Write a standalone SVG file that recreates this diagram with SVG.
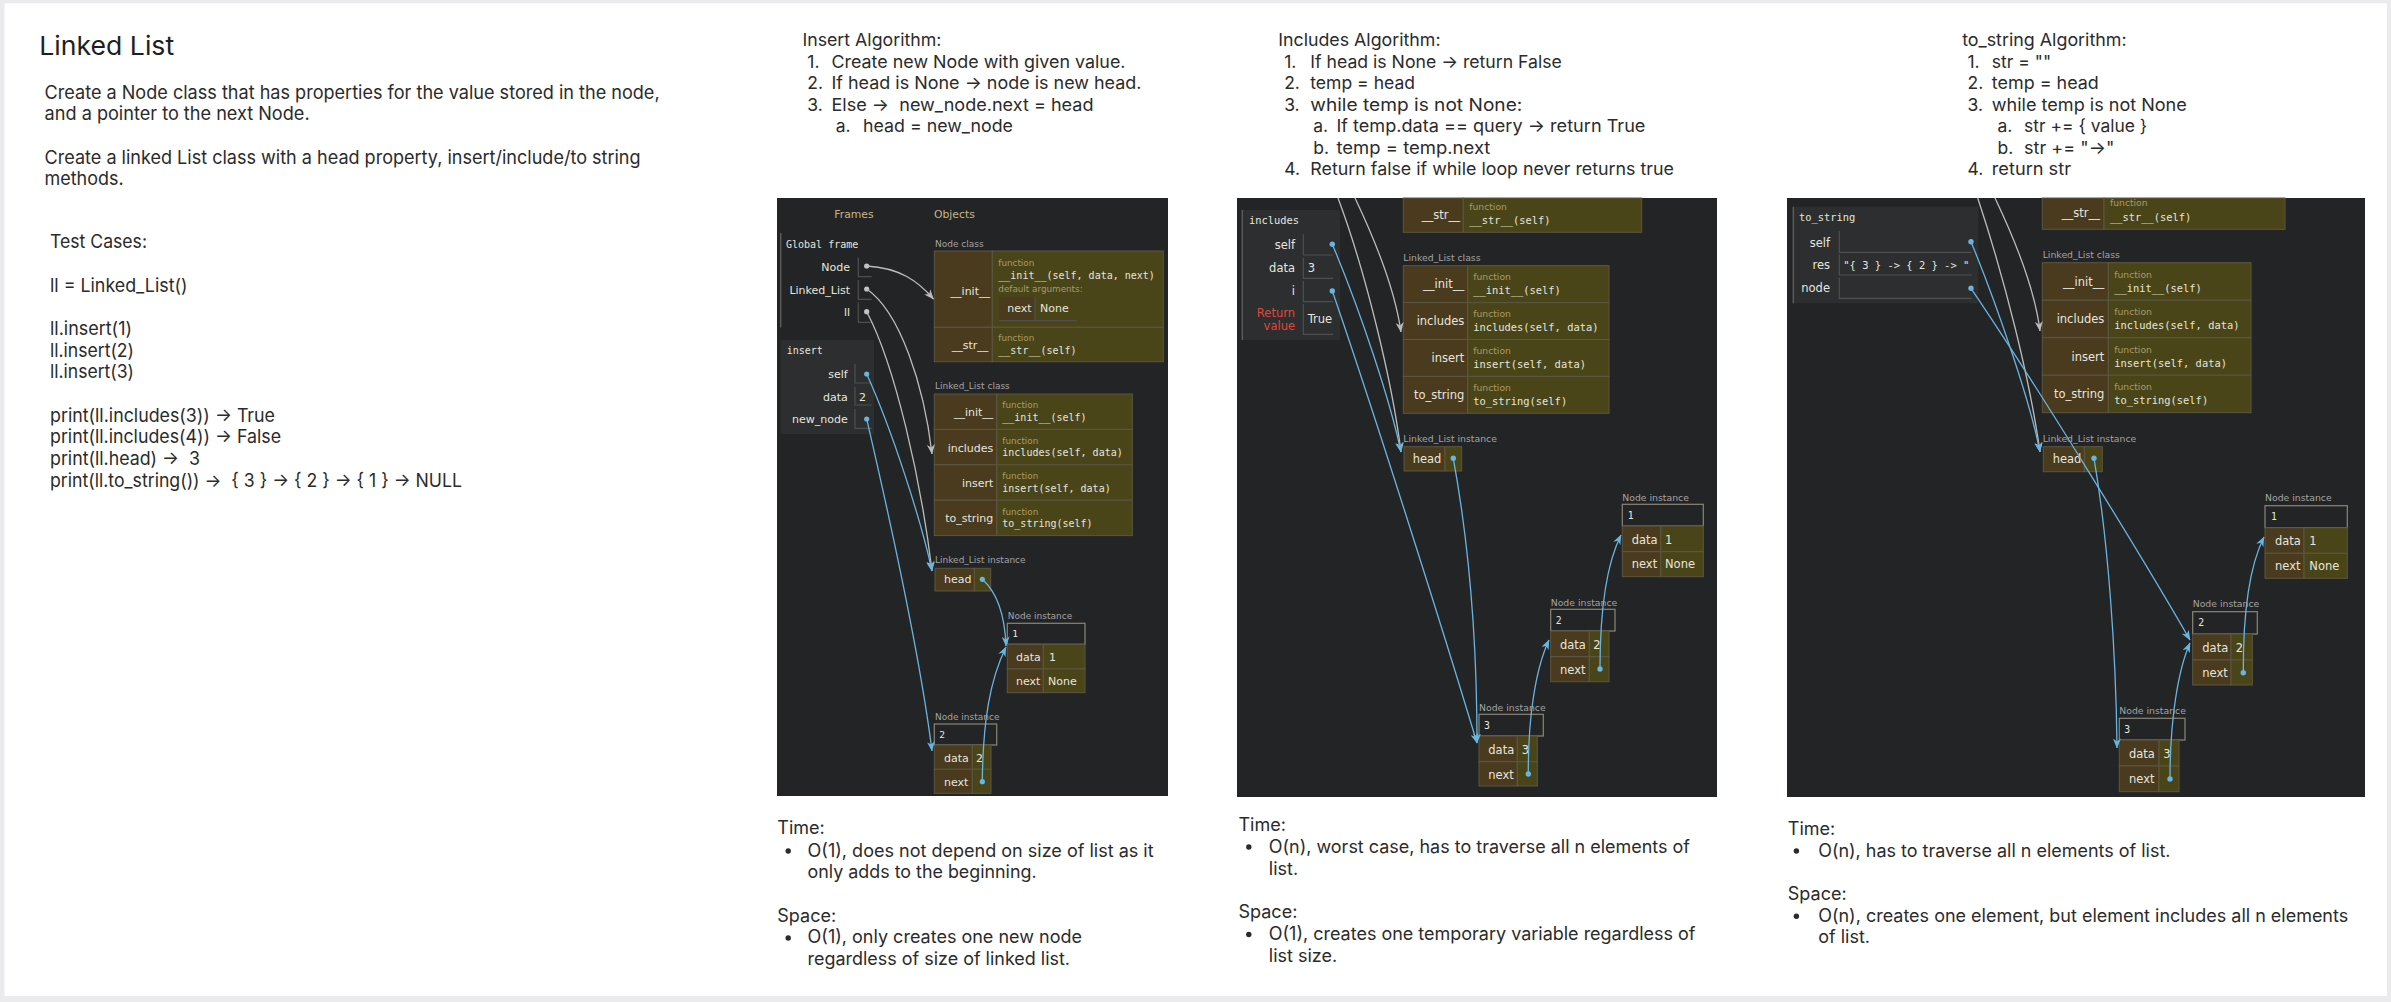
<svg xmlns="http://www.w3.org/2000/svg" width="2391" height="1002" viewBox="0 0 2391 1002">
<style>
.title{font-family:Inter,"Liberation Sans",sans-serif;font-size:26px;fill:#1e1e1e}
.body{font-family:Inter,"Liberation Sans",sans-serif;font-size:18.5px;fill:#2b2b2b}
.alg{font-family:Inter,"Liberation Sans",sans-serif;font-size:17.5px;fill:#2b2b2b}
.cx{font-family:Inter,"Liberation Sans",sans-serif;font-size:18px;fill:#2b2b2b}
.bul{fill:#2b2b2b}
.pbg{fill:#232425}
.afr{fill:#2d2e2f}
.fl{stroke:#5a5a5a;stroke-width:1.5}
.k{fill:#4a3a1e;stroke:#5c5742;stroke-width:1}
.v{fill:#4a4518;stroke:#5c5742;stroke-width:1}
.hd{fill:none;stroke:#8a8778;stroke-width:1.2}
.cell{fill:none;stroke:#4f4f4f;stroke-width:1.2}
.sn{font-family:"DejaVu Sans",Verdana,sans-serif;fill:#e6e6de}
.mo{font-family:"DejaVu Sans Mono",monospace;fill:#e6e6de}
.fn{font-family:"DejaVu Sans",sans-serif;fill:#a99a66}
.lb{font-family:"DejaVu Sans",sans-serif;fill:#a3a3a3}
.hdr{font-family:"DejaVu Sans",sans-serif;font-size:10.8px;fill:#c9b48a}
.red{fill:#e0473c}
.r{text-anchor:end}
.ag{fill:none;stroke:#bcbcbc;stroke-width:1.3;marker-end:url(#mg)}
.ab{fill:none;stroke:#6ab4e0;stroke-width:1.3;marker-end:url(#mb)}
.db{fill:#6ab4e0}
.dg{fill:#c4c4c4}
.p1 .sn{font-size:11px}.p1 .mo{font-size:10px}.p1 .fn{font-size:8.8px}.p1 .lb{font-size:9px}
.p2 .sn{font-size:11.5px}.p2 .mo{font-size:10.4px}.p2 .fn{font-size:9.2px}.p2 .lb{font-size:9.3px}
</style>
<defs>
<marker id="mg" markerWidth="10" markerHeight="8" refX="9.5" refY="4" orient="auto" markerUnits="userSpaceOnUse"><path d="M0,0 L10,4 L0,8 L3,4 z" fill="#bcbcbc"/></marker>
<marker id="mb" markerWidth="10" markerHeight="8" refX="9.5" refY="4" orient="auto" markerUnits="userSpaceOnUse"><path d="M0,0 L10,4 L0,8 L3,4 z" fill="#6ab4e0"/></marker>
</defs>

<rect x="0" y="0" width="2391" height="1002" fill="#ebebed"/>
<rect x="4.5" y="3.3" width="2382.5" height="992.7" fill="#ffffff"/>

<g id="intro-text">
<text class="title" x="39.3" y="55" textLength="134.8" lengthAdjust="spacingAndGlyphs">Linked List</text>
<text class="body" x="44.6" y="99.3" textLength="615" lengthAdjust="spacingAndGlyphs">Create a Node class that has properties for the value stored in the node,</text>
<text class="body" x="44.6" y="120" textLength="265" lengthAdjust="spacingAndGlyphs">and a pointer to the next Node.</text>
<text class="body" x="44.6" y="164" textLength="596" lengthAdjust="spacingAndGlyphs">Create a linked List class with a head property, insert/include/to string</text>
<text class="body" x="44.6" y="185" textLength="79" lengthAdjust="spacingAndGlyphs">methods.</text>
<text class="body" x="50" y="248.3" textLength="97" lengthAdjust="spacingAndGlyphs">Test Cases:</text>
<text class="body" x="50" y="291.7" textLength="137.5" lengthAdjust="spacingAndGlyphs">ll = Linked_List()</text>
<text class="body" x="50" y="335" textLength="82" lengthAdjust="spacingAndGlyphs">ll.insert(1)</text>
<text class="body" x="50" y="356.7" textLength="84" lengthAdjust="spacingAndGlyphs">ll.insert(2)</text>
<text class="body" x="50" y="378.3" textLength="84" lengthAdjust="spacingAndGlyphs">ll.insert(3)</text>
<text class="body" x="50" y="421.7" textLength="225" lengthAdjust="spacingAndGlyphs">print(ll.includes(3)) → True</text>
<text class="body" x="50" y="443.3" textLength="231" lengthAdjust="spacingAndGlyphs">print(ll.includes(4)) → False</text>
<text class="body" x="50" y="465" textLength="150" lengthAdjust="spacingAndGlyphs" xml:space="preserve">print(ll.head) →  3</text>
<text class="body" x="50" y="486.7" textLength="412" lengthAdjust="spacingAndGlyphs" xml:space="preserve">print(ll.to_string()) →  { 3 } → { 2 } → { 1 } → NULL</text>
</g>

<g id="insert-algorithm">
<text class="alg" x="802.4" y="46" textLength="139" lengthAdjust="spacingAndGlyphs">Insert Algorithm:</text>
<text class="alg" x="807.3" y="67.5">1.</text>
<text class="alg" x="831.5" y="67.5" textLength="294" lengthAdjust="spacingAndGlyphs">Create new Node with given value.</text>
<text class="alg" x="807.3" y="89">2.</text>
<text class="alg" x="831.5" y="89" textLength="310" lengthAdjust="spacingAndGlyphs">If head is None → node is new head.</text>
<text class="alg" x="807.3" y="110.5">3.</text>
<text class="alg" x="831.5" y="110.5" textLength="262" lengthAdjust="spacingAndGlyphs" xml:space="preserve">Else →  new_node.next = head</text>
<text class="alg" x="835.8" y="132">a.</text>
<text class="alg" x="863" y="132" textLength="150" lengthAdjust="spacingAndGlyphs">head = new_node</text>
</g>

<g id="includes-algorithm">
<text class="alg" x="1278.2" y="46" textLength="162.4" lengthAdjust="spacingAndGlyphs">Includes Algorithm:</text>
<text class="alg" x="1284.2" y="67.5">1.</text>
<text class="alg" x="1310.3" y="67.5" textLength="251.5" lengthAdjust="spacingAndGlyphs">If head is None → return False</text>
<text class="alg" x="1284.2" y="89">2.</text>
<text class="alg" x="1310.3" y="89" textLength="104.7" lengthAdjust="spacingAndGlyphs">temp = head</text>
<text class="alg" x="1284.2" y="110.5">3.</text>
<text class="alg" x="1310.3" y="110.5" textLength="212" lengthAdjust="spacingAndGlyphs">while temp is not None:</text>
<text class="alg" x="1313.3" y="132">a.</text>
<text class="alg" x="1336.4" y="132" textLength="309" lengthAdjust="spacingAndGlyphs">If temp.data == query → return True</text>
<text class="alg" x="1313.3" y="153.5">b.</text>
<text class="alg" x="1336.4" y="153.5" textLength="154" lengthAdjust="spacingAndGlyphs">temp = temp.next</text>
<text class="alg" x="1284.2" y="175">4.</text>
<text class="alg" x="1310.3" y="175" textLength="363.7" lengthAdjust="spacingAndGlyphs">Return false if while loop never returns true</text>
</g>

<g id="tostring-algorithm">
<text class="alg" x="1962.2" y="46" textLength="164.4" lengthAdjust="spacingAndGlyphs">to_string Algorithm:</text>
<text class="alg" x="1967.5" y="67.5">1.</text>
<text class="alg" x="1991.8" y="67.5">str = ""</text>
<text class="alg" x="1967.5" y="89">2.</text>
<text class="alg" x="1991.8" y="89" textLength="107" lengthAdjust="spacingAndGlyphs">temp = head</text>
<text class="alg" x="1967.5" y="110.5">3.</text>
<text class="alg" x="1991.8" y="110.5" textLength="195" lengthAdjust="spacingAndGlyphs">while temp is not None</text>
<text class="alg" x="1997.5" y="132">a.</text>
<text class="alg" x="2024" y="132" textLength="123.3" lengthAdjust="spacingAndGlyphs">str += { value }</text>
<text class="alg" x="1997.5" y="153.5">b.</text>
<text class="alg" x="2024" y="153.5" textLength="90.3" lengthAdjust="spacingAndGlyphs">str += "→"</text>
<text class="alg" x="1967.5" y="175">4.</text>
<text class="alg" x="1991.8" y="175" textLength="79.2" lengthAdjust="spacingAndGlyphs">return str</text>
</g>

<g id="insert-complexity">
<text class="cx" x="777.3" y="834">Time:</text>
<circle class="bul" cx="788.2" cy="851" r="2.7"/>
<text class="cx" x="807.6" y="856.7" textLength="346" lengthAdjust="spacingAndGlyphs">O(1), does not depend on size of list as it</text>
<text class="cx" x="807.6" y="878.3" textLength="229" lengthAdjust="spacingAndGlyphs">only adds to the beginning.</text>
<text class="cx" x="777.3" y="921.7">Space:</text>
<circle class="bul" cx="788.2" cy="938" r="2.7"/>
<text class="cx" x="807.6" y="943.3" textLength="274.4" lengthAdjust="spacingAndGlyphs">O(1), only creates one new node</text>
<text class="cx" x="807.6" y="965" textLength="262.4" lengthAdjust="spacingAndGlyphs">regardless of size of linked list.</text>
</g>

<g id="includes-complexity">
<text class="cx" x="1238.5" y="831">Time:</text>
<circle class="bul" cx="1248.8" cy="847" r="2.7"/>
<text class="cx" x="1268.8" y="852.7" textLength="421.2" lengthAdjust="spacingAndGlyphs">O(n), worst case, has to traverse all n elements of</text>
<text class="cx" x="1268.8" y="875">list.</text>
<text class="cx" x="1238.5" y="918.3">Space:</text>
<circle class="bul" cx="1248.8" cy="934.5" r="2.7"/>
<text class="cx" x="1268.8" y="940" textLength="426.7" lengthAdjust="spacingAndGlyphs">O(1), creates one temporary variable regardless of</text>
<text class="cx" x="1268.8" y="961.7">list size.</text>
</g>

<g id="tostring-complexity">
<text class="cx" x="1787.8" y="835">Time:</text>
<circle class="bul" cx="1796.4" cy="851" r="2.7"/>
<text class="cx" x="1818.2" y="856.7" textLength="352.3" lengthAdjust="spacingAndGlyphs">O(n), has to traverse all n elements of list.</text>
<text class="cx" x="1787.8" y="900">Space:</text>
<circle class="bul" cx="1796.4" cy="916.2" r="2.7"/>
<text class="cx" x="1818.2" y="921.7" textLength="530" lengthAdjust="spacingAndGlyphs">O(n), creates one element, but element includes all n elements</text>
<text class="cx" x="1818.2" y="943.3">of list.</text>
</g>

<!-- ================= PANEL 1 : insert ================= -->
<g id="panel-insert" class="p1">
<rect class="pbg" x="777" y="198" width="391" height="598"/>
<text class="hdr" x="834.3" y="218.3">Frames</text>
<text class="hdr" x="934" y="218.3">Objects</text>

<g id="p1-global-frame">
<line class="fl" x1="780.7" y1="233" x2="780.7" y2="327.3"/>
<text class="mo" x="786" y="247.7">Global frame</text>
<text class="sn r" x="850" y="270.5">Node</text>
<path class="cell" d="M858.3,257.7V276.7H871.7"/>
<circle class="dg" cx="866.7" cy="266" r="2.6"/>
<text class="sn r" x="850" y="293.5">Linked_List</text>
<path class="cell" d="M858.3,280V299.3H871.7"/>
<circle class="dg" cx="866.7" cy="289" r="2.6"/>
<text class="sn r" x="850" y="315.7">ll</text>
<path class="cell" d="M858.3,302.3V322.3H871.7"/>
<circle class="dg" cx="866.7" cy="311.7" r="2.6"/>
</g>

<g id="p1-insert-frame">
<rect class="afr" x="780.7" y="340" width="93.3" height="94"/>
<text class="mo" x="786.7" y="354.3">insert</text>
<text class="sn r" x="847.7" y="378.3">self</text>
<path class="cell" d="M855,364V383H871.7"/>
<circle class="db" cx="866.7" cy="374" r="2.6"/>
<text class="sn r" x="847.7" y="400.7">data</text>
<path class="cell" d="M855,386.7V405H871.7"/>
<text class="sn" x="859" y="400.7">2</text>
<text class="sn r" x="847.7" y="422.7">new_node</text>
<path class="cell" d="M855,409V428.3H871.7"/>
<circle class="db" cx="866.7" cy="419" r="2.6"/>
</g>

<g id="p1-node-class">
<text class="lb" x="935" y="246.7">Node class</text>
<rect class="k" x="934.3" y="251" width="58" height="76.3"/>
<rect class="v" x="992.3" y="251" width="171" height="76.3"/>
<text class="sn r" x="990" y="295">__init__</text>
<text class="fn" x="998.3" y="265.7">function</text>
<text class="mo" x="998.3" y="279">__init__(self, data, next)</text>
<text class="fn" x="998.3" y="291.7">default arguments:</text>
<rect x="999" y="296.7" width="36" height="24" fill="#4a3a1e"/>
<path class="cell" d="M1035,296.7V320.7H1076.7M999,320.7H1035"/>
<text class="sn r" x="1031.7" y="312.3">next</text>
<text class="sn" x="1040" y="312.3">None</text>
<rect class="k" x="934.3" y="327.3" width="58" height="34.4"/>
<rect class="v" x="992.3" y="327.3" width="171" height="34.4"/>
<text class="sn r" x="988.3" y="349">__str__</text>
<text class="fn" x="998.3" y="340.7">function</text>
<text class="mo" x="998.3" y="354">__str__(self)</text>
</g>

<g id="p1-linkedlist-class">
<text class="lb" x="935" y="389.3">Linked_List class</text>
<rect class="k" x="934.3" y="394" width="62.4" height="35.4"/>
<rect class="v" x="996.7" y="394" width="135.6" height="35.4"/>
<text class="sn r" x="993.3" y="416.2">__init__</text>
<text class="fn" x="1002.3" y="408.3">function</text>
<text class="mo" x="1002.3" y="421">__init__(self)</text>
<rect class="k" x="934.3" y="429.4" width="62.4" height="35.4"/>
<rect class="v" x="996.7" y="429.4" width="135.6" height="35.4"/>
<text class="sn r" x="993.3" y="451.6">includes</text>
<text class="fn" x="1002.3" y="443.7">function</text>
<text class="mo" x="1002.3" y="456.4">includes(self, data)</text>
<rect class="k" x="934.3" y="464.8" width="62.4" height="35.4"/>
<rect class="v" x="996.7" y="464.8" width="135.6" height="35.4"/>
<text class="sn r" x="993.3" y="487">insert</text>
<text class="fn" x="1002.3" y="479.1">function</text>
<text class="mo" x="1002.3" y="491.8">insert(self, data)</text>
<rect class="k" x="934.3" y="500.2" width="62.4" height="35.4"/>
<rect class="v" x="996.7" y="500.2" width="135.6" height="35.4"/>
<text class="sn r" x="993.3" y="522.4">to_string</text>
<text class="fn" x="1002.3" y="514.5">function</text>
<text class="mo" x="1002.3" y="527.2">to_string(self)</text>
</g>

<g id="p1-linkedlist-instance">
<text class="lb" x="935" y="563.3">Linked_List instance</text>
<rect class="k" x="935" y="568.3" width="39.3" height="22.7"/>
<rect class="v" x="974.3" y="568.3" width="16.4" height="22.7"/>
<text class="sn" x="944" y="583.3">head</text>
<circle class="db" cx="982.3" cy="579.3" r="2.6"/>
</g>

<g id="p1-node-1">
<text class="lb" x="1007.7" y="619.3">Node instance</text>
<rect class="hd" x="1007.3" y="623.3" width="77.7" height="21"/>
<text class="mo" x="1012.3" y="637" style="font-size:9.5px">1</text>
<rect class="k" x="1007.3" y="644.3" width="36" height="24.7"/>
<rect class="v" x="1043.3" y="644.3" width="41.7" height="24.7"/>
<text class="sn" x="1016" y="660.7">data</text>
<text class="sn" x="1049" y="660.7">1</text>
<rect class="k" x="1007.3" y="669" width="36" height="23.7"/>
<rect class="v" x="1043.3" y="669" width="41.7" height="23.7"/>
<text class="sn" x="1016" y="685">next</text>
<text class="sn" x="1048" y="685">None</text>
</g>

<g id="p1-node-2">
<text class="lb" x="935" y="720">Node instance</text>
<rect class="hd" x="934.3" y="724" width="62.4" height="21"/>
<text class="mo" x="939.3" y="738" style="font-size:9.5px">2</text>
<rect class="k" x="934.3" y="745" width="38" height="24.3"/>
<rect class="v" x="972.3" y="745" width="18.7" height="24.3"/>
<text class="sn" x="944" y="761.7">data</text>
<text class="sn" x="976" y="761.7">2</text>
<rect class="k" x="934.3" y="769.3" width="38" height="24"/>
<rect class="v" x="972.3" y="769.3" width="18.7" height="24"/>
<text class="sn" x="944" y="785.7">next</text>
<circle class="db" cx="982.3" cy="781.7" r="2.6"/>
</g>

<g id="p1-connectors">
<path class="ag" d="M866.7,266 C900,268 918,281 933.5,299"/>
<path class="ag" d="M866.7,289 C900,312 924,385 932,454"/>
<path class="ag" d="M866.7,311.7 C895,365 921,480 932,571"/>
<path class="ab" d="M866.7,374 C892,430 921,520 932,571"/>
<path class="ab" d="M866.7,419 C882,485 918,640 932,751"/>
<path class="ab" d="M982.3,579.3 C1000,595 1005,620 1006,646"/>
<path class="ab" d="M982.3,781.7 C983,720 990,680 1006,647"/>
</g>
</g>

<!-- ================= PANEL 2 : includes ================= -->
<g id="panel-includes" class="p2">
<rect class="pbg" x="1237" y="198" width="480" height="599"/>

<g id="p2-node-class">
<rect class="k" x="1403.3" y="198" width="60" height="34.3"/>
<rect class="v" x="1463.3" y="198" width="178.4" height="34.3"/>
<text class="sn r" x="1460" y="219">__str__</text>
<text class="fn" x="1469.3" y="210">function</text>
<text class="mo" x="1469.3" y="224.3">__str__(self)</text>
</g>

<g id="p2-includes-frame">
<rect class="afr" x="1242.3" y="210" width="97.7" height="130"/>
<line class="fl" x1="1242.3" y1="210" x2="1242.3" y2="340"/>
<text class="mo" x="1249" y="224.3">includes</text>
<text class="sn r" x="1295" y="249">self</text>
<path class="cell" d="M1303.3,234.3V255H1333.3"/>
<circle class="db" cx="1332.3" cy="244.3" r="2.7"/>
<text class="sn r" x="1295" y="271.7">data</text>
<path class="cell" d="M1303.3,257.7V278.3H1333.3"/>
<text class="sn" x="1307.7" y="271.7">3</text>
<text class="sn r" x="1295" y="295">i</text>
<path class="cell" d="M1303.3,280.7V301.7H1333.3"/>
<circle class="db" cx="1332.3" cy="291" r="2.7"/>
<text class="sn r red" x="1295" y="316.7">Return</text>
<text class="sn r red" x="1295" y="329.5">value</text>
<path class="cell" d="M1303.3,304V334.3H1333.3"/>
<text class="sn" x="1307.7" y="323.3">True</text>
</g>

<g id="p2-linkedlist-class">
<text class="lb" x="1403.3" y="261">Linked_List class</text>
<rect class="k" x="1403.3" y="265.7" width="64.4" height="36.9"/>
<rect class="v" x="1467.7" y="265.7" width="141.3" height="36.9"/>
<text class="sn r" x="1464.3" y="288.3">__init__</text>
<text class="fn" x="1473.3" y="280">function</text>
<text class="mo" x="1473.3" y="294">__init__(self)</text>
<rect class="k" x="1403.3" y="302.6" width="64.4" height="36.9"/>
<rect class="v" x="1467.7" y="302.6" width="141.3" height="36.9"/>
<text class="sn r" x="1464.3" y="325.2">includes</text>
<text class="fn" x="1473.3" y="316.9">function</text>
<text class="mo" x="1473.3" y="330.9">includes(self, data)</text>
<rect class="k" x="1403.3" y="339.5" width="64.4" height="36.9"/>
<rect class="v" x="1467.7" y="339.5" width="141.3" height="36.9"/>
<text class="sn r" x="1464.3" y="362.1">insert</text>
<text class="fn" x="1473.3" y="353.8">function</text>
<text class="mo" x="1473.3" y="367.8">insert(self, data)</text>
<rect class="k" x="1403.3" y="376.4" width="64.4" height="36.9"/>
<rect class="v" x="1467.7" y="376.4" width="141.3" height="36.9"/>
<text class="sn r" x="1464.3" y="399">to_string</text>
<text class="fn" x="1473.3" y="390.7">function</text>
<text class="mo" x="1473.3" y="404.7">to_string(self)</text>
</g>

<g id="p2-linkedlist-instance">
<text class="lb" x="1403.3" y="441.7">Linked_List instance</text>
<rect class="k" x="1404" y="446.7" width="41" height="24.3"/>
<rect class="v" x="1445" y="446.7" width="16.7" height="24.3"/>
<text class="sn" x="1412.7" y="463.3">head</text>
<circle class="db" cx="1453.3" cy="458.3" r="2.7"/>
</g>

<g id="p2-node-1">
<text class="lb" x="1622.3" y="501">Node instance</text>
<rect class="hd" x="1622.3" y="504.3" width="81" height="21.7"/>
<text class="mo" x="1627.7" y="518.5" style="font-size:9.8px">1</text>
<rect class="k" x="1622.3" y="526" width="38.4" height="25.7"/>
<rect class="v" x="1660.7" y="526" width="42.6" height="25.7"/>
<text class="sn" x="1631.7" y="544">data</text>
<text class="sn" x="1665" y="544">1</text>
<rect class="k" x="1622.3" y="551.7" width="38.4" height="25"/>
<rect class="v" x="1660.7" y="551.7" width="42.6" height="25"/>
<text class="sn" x="1631.7" y="568.3">next</text>
<text class="sn" x="1665" y="568.3">None</text>
</g>

<g id="p2-node-2">
<text class="lb" x="1550.7" y="605.7">Node instance</text>
<rect class="hd" x="1550.7" y="609.3" width="64.3" height="21.7"/>
<text class="mo" x="1555.7" y="623.5" style="font-size:9.8px">2</text>
<rect class="k" x="1550.7" y="631" width="38.6" height="25.7"/>
<rect class="v" x="1589.3" y="631" width="19.7" height="25.7"/>
<text class="sn" x="1560" y="649">data</text>
<text class="sn" x="1593.3" y="649">2</text>
<rect class="k" x="1550.7" y="656.7" width="38.6" height="25"/>
<rect class="v" x="1589.3" y="656.7" width="19.7" height="25"/>
<text class="sn" x="1560" y="674">next</text>
<circle class="db" cx="1600" cy="669" r="2.7"/>
</g>

<g id="p2-node-3">
<text class="lb" x="1479" y="710.7">Node instance</text>
<rect class="hd" x="1479" y="714.3" width="64.3" height="21.7"/>
<text class="mo" x="1484" y="728.5" style="font-size:9.8px">3</text>
<rect class="k" x="1479" y="736" width="38.3" height="25.7"/>
<rect class="v" x="1517.3" y="736" width="20" height="25.7"/>
<text class="sn" x="1488.3" y="754">data</text>
<text class="sn" x="1521.7" y="754">3</text>
<rect class="k" x="1479" y="761.7" width="38.3" height="24.3"/>
<rect class="v" x="1517.3" y="761.7" width="20" height="24.3"/>
<text class="sn" x="1488.3" y="779">next</text>
<circle class="db" cx="1528.3" cy="774" r="2.7"/>
</g>

<g id="p2-connectors">
<path class="ag" d="M1355,198 C1375,240 1395,290 1401,332"/>
<path class="ag" d="M1338,198 C1365,270 1392,380 1401,452"/>
<path class="ab" d="M1332.3,244.3 C1360,310 1390,400 1401,452"/>
<path class="ab" d="M1332.3,291 C1370,400 1440,620 1477,743"/>
<path class="ab" d="M1453.3,458.3 C1470,550 1477,650 1477,743"/>
<path class="ab" d="M1528.3,774 C1528,720 1535,670 1549,640"/>
<path class="ab" d="M1600,669 C1600,610 1606,565 1621,535"/>
</g>
</g>

<!-- ================= PANEL 3 : to_string ================= -->
<g id="panel-tostring" class="p2">
<rect class="pbg" x="1787" y="198" width="578" height="599"/>

<g id="p3-node-class">
<rect class="k" x="2042.3" y="198" width="61.7" height="31.3"/>
<rect class="v" x="2104" y="198" width="181" height="31.3"/>
<text class="sn r" x="2100" y="217">__str__</text>
<text class="fn" x="2110" y="206">function</text>
<text class="mo" x="2110" y="221">__str__(self)</text>
</g>

<g id="p3-tostring-frame">
<rect class="afr" x="1793.3" y="206.7" width="185" height="96.6"/>
<line class="fl" x1="1793.3" y1="206.7" x2="1793.3" y2="303.3"/>
<text class="mo" x="1799" y="221">to_string</text>
<text class="sn r" x="1830" y="246.7">self</text>
<path class="cell" d="M1839.3,231V252.3H1971.7"/>
<circle class="db" cx="1971" cy="241.7" r="2.7"/>
<text class="sn r" x="1830" y="269">res</text>
<path class="cell" d="M1839.3,254.3V275H1971.7"/>
<text class="mo" x="1843.3" y="269" textLength="126" lengthAdjust="spacingAndGlyphs" xml:space="preserve">"{ 3 } -&gt; { 2 } -&gt; "</text>
<text class="sn r" x="1830" y="292.3">node</text>
<path class="cell" d="M1839.3,277.7V298.3H1971.7"/>
<circle class="db" cx="1971" cy="288.3" r="2.7"/>
</g>

<g id="p3-linkedlist-class">
<text class="lb" x="2042.7" y="258.3">Linked_List class</text>
<rect class="k" x="2042.3" y="262.7" width="66" height="37.5"/>
<rect class="v" x="2108.3" y="262.7" width="142.7" height="37.5"/>
<text class="sn r" x="2104.3" y="285.7">__init__</text>
<text class="fn" x="2114.3" y="277.7">function</text>
<text class="mo" x="2114.3" y="291.7">__init__(self)</text>
<rect class="k" x="2042.3" y="300.2" width="66" height="37.5"/>
<rect class="v" x="2108.3" y="300.2" width="142.7" height="37.5"/>
<text class="sn r" x="2104.3" y="323.2">includes</text>
<text class="fn" x="2114.3" y="315.2">function</text>
<text class="mo" x="2114.3" y="329.2">includes(self, data)</text>
<rect class="k" x="2042.3" y="337.7" width="66" height="37.5"/>
<rect class="v" x="2108.3" y="337.7" width="142.7" height="37.5"/>
<text class="sn r" x="2104.3" y="360.7">insert</text>
<text class="fn" x="2114.3" y="352.7">function</text>
<text class="mo" x="2114.3" y="366.7">insert(self, data)</text>
<rect class="k" x="2042.3" y="375.2" width="66" height="37.5"/>
<rect class="v" x="2108.3" y="375.2" width="142.7" height="37.5"/>
<text class="sn r" x="2104.3" y="398.2">to_string</text>
<text class="fn" x="2114.3" y="390.2">function</text>
<text class="mo" x="2114.3" y="404.2">to_string(self)</text>
</g>

<g id="p3-linkedlist-instance">
<text class="lb" x="2042.7" y="441.7">Linked_List instance</text>
<rect class="k" x="2043.3" y="446.7" width="41" height="25"/>
<rect class="v" x="2084.3" y="446.7" width="18" height="25"/>
<text class="sn" x="2052.7" y="462.7">head</text>
<circle class="db" cx="2094" cy="458.3" r="2.7"/>
</g>

<g id="p3-node-1">
<text class="lb" x="2265" y="501">Node instance</text>
<rect class="hd" x="2265" y="505.7" width="82.3" height="22"/>
<text class="mo" x="2271" y="520" style="font-size:9.8px">1</text>
<rect class="k" x="2265" y="527.7" width="39" height="25.6"/>
<rect class="v" x="2304" y="527.7" width="43.3" height="25.6"/>
<text class="sn" x="2275" y="545">data</text>
<text class="sn" x="2309.3" y="545">1</text>
<rect class="k" x="2265" y="553.3" width="39" height="25"/>
<rect class="v" x="2304" y="553.3" width="43.3" height="25"/>
<text class="sn" x="2275" y="570">next</text>
<text class="sn" x="2309.3" y="570">None</text>
</g>

<g id="p3-node-2">
<text class="lb" x="2192.7" y="607.3">Node instance</text>
<rect class="hd" x="2192.7" y="611.7" width="64.6" height="22.3"/>
<text class="mo" x="2198.3" y="626" style="font-size:9.8px">2</text>
<rect class="k" x="2192.7" y="634" width="38.3" height="26"/>
<rect class="v" x="2231" y="634" width="21.3" height="26"/>
<text class="sn" x="2202.3" y="651.7">data</text>
<text class="sn" x="2235.7" y="651.7">2</text>
<rect class="k" x="2192.7" y="660" width="38.3" height="25"/>
<rect class="v" x="2231" y="660" width="21.3" height="25"/>
<text class="sn" x="2202.3" y="676.7">next</text>
<circle class="db" cx="2243.3" cy="672.7" r="2.7"/>
</g>

<g id="p3-node-3">
<text class="lb" x="2119.3" y="714">Node instance</text>
<rect class="hd" x="2119.3" y="718.3" width="65.7" height="21.7"/>
<text class="mo" x="2124.3" y="732.5" style="font-size:9.8px">3</text>
<rect class="k" x="2119.3" y="740" width="39.7" height="26"/>
<rect class="v" x="2159" y="740" width="20" height="26"/>
<text class="sn" x="2129" y="758.3">data</text>
<text class="sn" x="2163.3" y="758.3">3</text>
<rect class="k" x="2119.3" y="766" width="39.7" height="25.7"/>
<rect class="v" x="2159" y="766" width="20" height="25.7"/>
<text class="sn" x="2129" y="783.3">next</text>
<circle class="db" cx="2170" cy="779" r="2.7"/>
</g>

<g id="p3-connectors">
<path class="ag" d="M1995,198 C2015,240 2035,290 2040,331"/>
<path class="ag" d="M1977.7,198 C2005,280 2030,380 2040,452"/>
<path class="ab" d="M1971,241.7 C1995,300 2030,400 2040,452"/>
<path class="ab" d="M1971,288.3 C2040,390 2150,570 2190,640"/>
<path class="ab" d="M2094,458.3 C2108,540 2116,650 2117,748"/>
<path class="ab" d="M2170,779 C2170,720 2178,670 2190,643"/>
<path class="ab" d="M2243.3,672.7 C2243,610 2250,565 2264,537"/>
</g>
</g>
</svg>
